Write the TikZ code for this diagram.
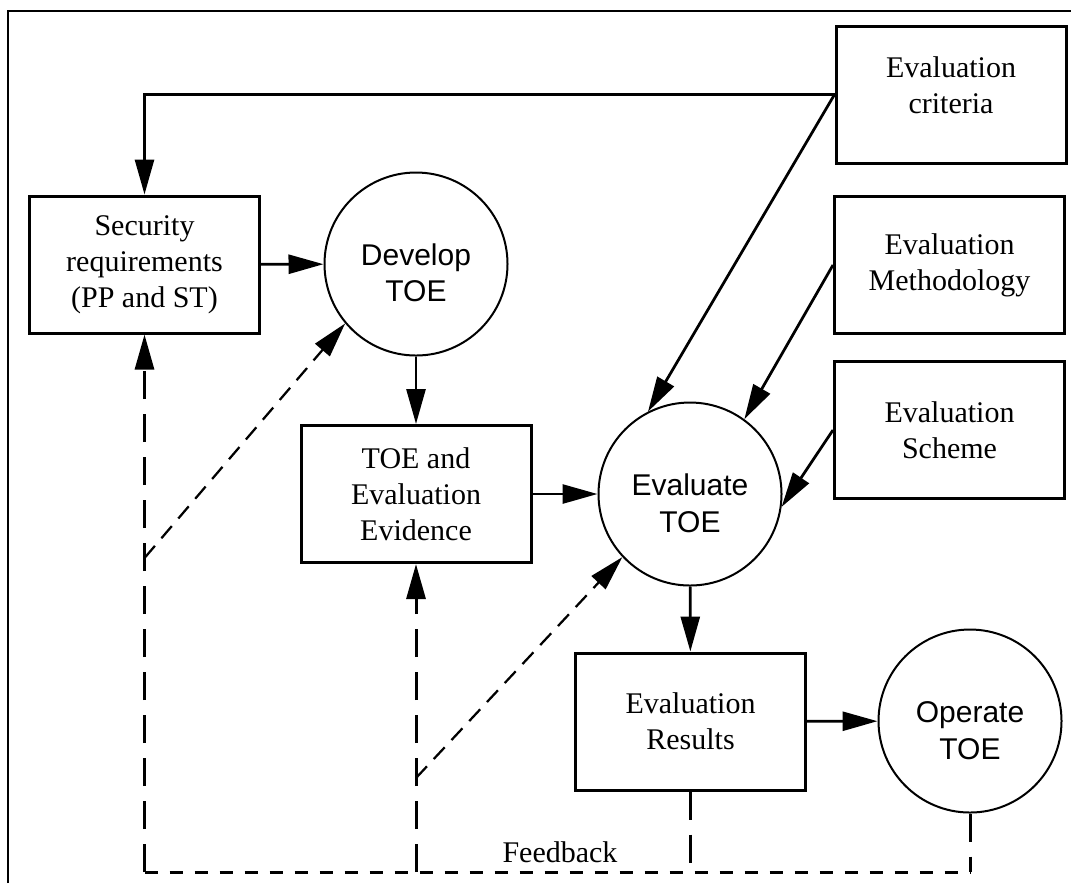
\documentclass[tikz,border=0pt]{standalone}
\usepackage{fontspec}
\setmainfont{Liberation Serif}
\newfontfamily\procfont{Liberation Sans}
\usetikzlibrary{arrows.meta}
\newcommand{\pxu}{0.4pt}
\newcommand{\toppad}{\rule{0pt}{16pt}}
\newcommand{\botpad}{\rule[-7.7pt]{0pt}{7.7pt}}
\tikzset{
  box/.style={draw, rectangle, line width=1.2pt, align=center, inner sep=0pt,
    minimum width=230*\pxu, minimum height=137*\pxu, font=\fontsize{12}{14.5}\selectfont},
  proc/.style={draw, circle, line width=0.8pt, align=center, inner sep=0pt,
    minimum size=183*\pxu, font=\procfont\fontsize{12}{14.5}\selectfont},
  tip/.style={-{Triangle[length=14pt,width=7.6pt]}},
  flow/.style={tip, line width=1.1pt},
  fbv/.style={line width=1.2pt, dash pattern=on 11.2pt off 6pt},
  fbh/.style={line width=1.2pt, dash pattern=on 5.2pt off 4.8pt},
  fbd/.style={line width=0.9pt, dash pattern=on 6.4pt off 4pt}
}
\begin{document}
\begin{tikzpicture}[x=\pxu, y=-\pxu]
\useasboundingbox (0,0) rectangle (1071,883);
% outer frame, cut off by the page
\draw[line width=1pt] (8,883) -- (8,11) -- (1071,11);

% the boxes
\node[box] (secreq)   at (144.5,264.5) {Security\\requirements\\(PP and ST)};
\node[box] (toeev)    at (416,494)     {TOE and\\Evaluation\\Evidence};
\node[box] (results)  at (690.5,721.5) {Evaluation\\Results};
\node[box] (criteria) at (951,94.5)    {Evaluation\\criteria\botpad};
\node[box] (method)   at (949.5,265)   {Evaluation\\Methodology};
\node[box] (scheme)   at (949.5,430)   {Evaluation\\Scheme};

% the activities
\node[proc] (develop)  at (416,264) {\toppad Develop\\TOE};
\node[proc] (evaluate) at (690,494) {\toppad Evaluate\\TOE};
\node[proc] (operate)  at (970,721) {\toppad Operate\\TOE};

% main flow
\draw[flow] (criteria.west) -| (secreq.north);
\draw[flow] (criteria.west) -- (evaluate.117);
\draw[flow] (method.west) -- (evaluate.54);
\draw[flow] (scheme.west) -- (evaluate.-8);
\draw[flow] (secreq) -- (develop);
\draw[flow] (develop) -- (toeev);
\draw[flow] (toeev) -- (evaluate);
\draw[flow] (evaluate) -- (results);
\draw[flow] (results) -- (operate);

% feedback loop
\coordinate (fbbase) at (0,872);
\coordinate (fbdev) at (secreq.south |- 0,558);
\coordinate (fbeval) at (toeev.south |- 0,778);
\draw[fbv] (results.south) -- (results.south |- fbbase);
\draw[fbv] (operate.south) -- (operate.south |- fbbase);
\draw[fbh] (secreq.south |- fbbase) -- (operate.south |- fbbase);
\draw[fbv, tip] (secreq.south |- fbbase) -- (secreq.south);
\draw[fbv, tip] (toeev.south |- fbbase) -- (toeev.south);
\draw[fbd, tip] (fbdev) -- (develop.220);
\draw[fbd, tip] (fbeval) -- (evaluate.223);
\node[anchor=base, inner sep=0pt, font=\fontsize{12}{14.5}\selectfont] (fbtext) at (560,862) {Feedback};
\end{tikzpicture}
\end{document}
